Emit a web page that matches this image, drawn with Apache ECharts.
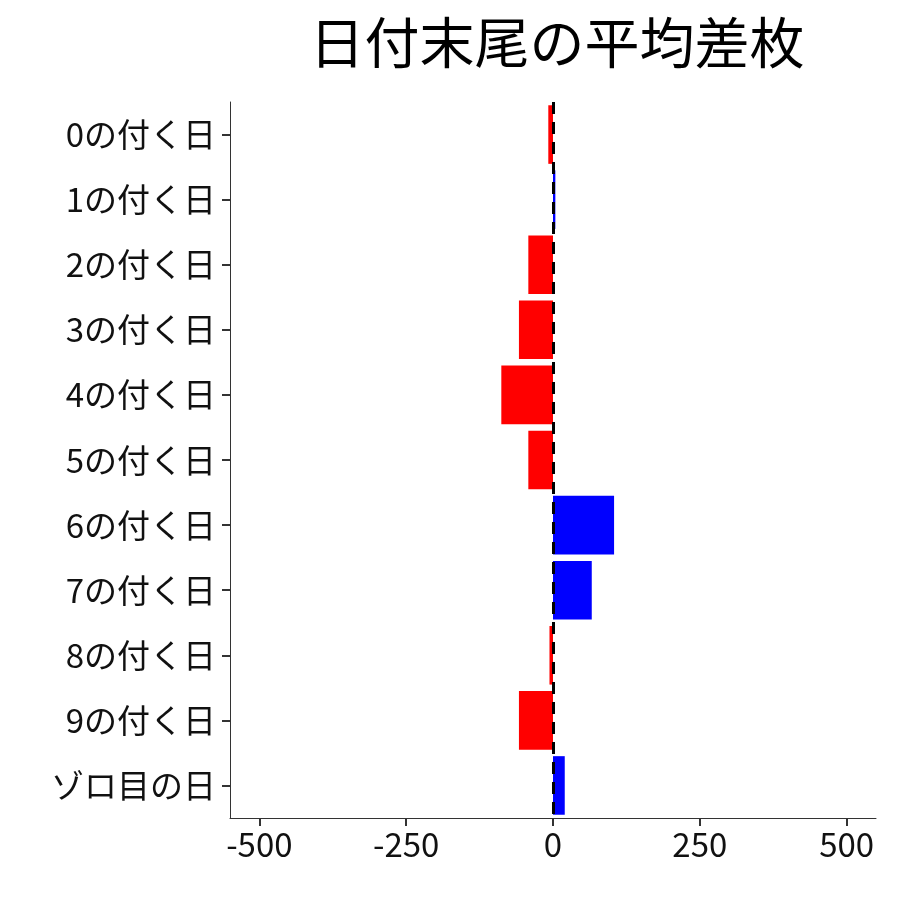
<!DOCTYPE html>
<html><head><meta charset="utf-8">
<script src="https://cdn.jsdelivr.net/npm/echarts@6/dist/echarts.min.js"></script>
<style>html,body{margin:0;padding:0;background:#fff}#c{width:900px;height:900px}</style>
</head><body><div id="c"></div>
<script>
const categories = ['0の付く日','1の付く日','2の付く日','3の付く日','4の付く日','5の付く日','6の付く日','7の付く日','8の付く日','9の付く日','ゾロ目の日'];
const values = [-8, 4, -42, -58, -88, -42, 104, 66, -6, -58, 20];
const tickValues = [-500, -250, 0, 250, 500];
const font = '"Noto Sans CJK JP", sans-serif';
const chart = echarts.init(document.getElementById('c'));
chart.setOption({
  animation: false,
  title: {text: '日付末尾の平均差枚', left: 552, textAlign: 'center', top: 10,
    textStyle: {fontFamily: font, fontSize: 55, fontWeight: 'normal', color: '#000'}},
  grid: {left: 230, right: 24, top: 102, bottom: 82},
  xAxis: {type: 'value', min: -550, max: 550,
    axisLine: {show: true, lineStyle: {color: '#333'}},
    splitLine: {show: false},
    axisTick: {show: true, customValues: tickValues, length: 8, lineStyle: {color: '#333', width: 2}},
    axisLabel: {customValues: tickValues, fontFamily: font, fontSize: 33, color: '#111', margin: 10}},
  yAxis: {type: 'category', data: categories, inverse: true,
    axisLine: {show: true, onZero: false, lineStyle: {color: '#333'}},
    axisTick: {show: true, alignWithLabel: true, length: 8, lineStyle: {color: '#333', width: 2}},
    axisLabel: {fontFamily: font, fontSize: 33, color: '#111', margin: 14}},
  series: [{type: 'bar', barCategoryGap: '10%',
    data: values.map(v => ({value: v, itemStyle: {color: v < 0 ? '#ff0000' : '#0000ff'}})),
    markLine: {symbol: 'none', silent: true, label: {show: false},
      lineStyle: {color: '#000', type: [12, 8], width: 3},
      data: [{xAxis: 0}]}}]
});
</script></body></html>
